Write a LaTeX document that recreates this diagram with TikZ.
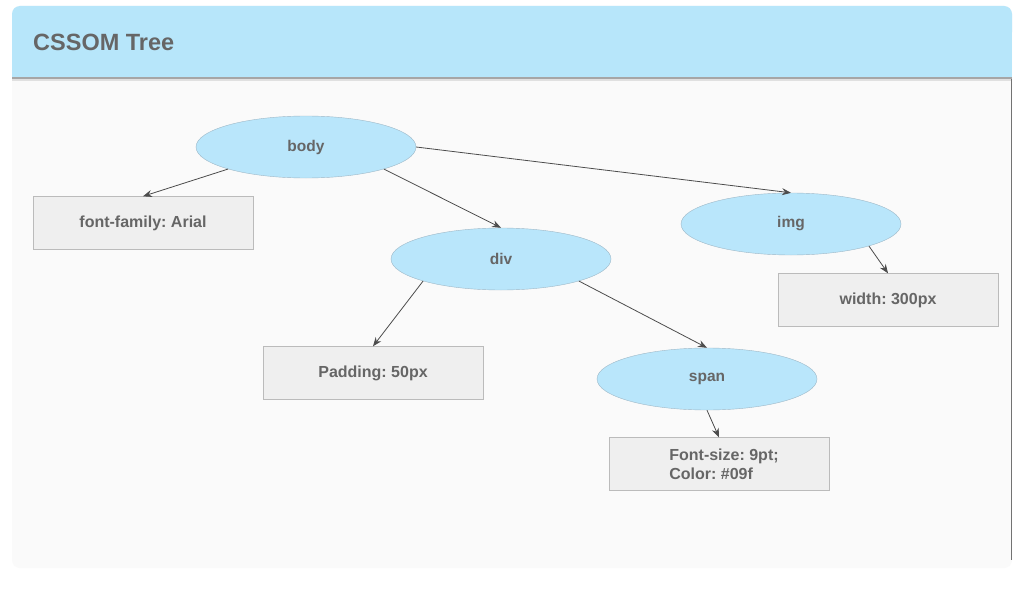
\documentclass[tikz,border=0pt]{standalone}
\usepackage{fontspec}
\setmainfont{Liberation Sans}
\usepackage{tikz}
\usetikzlibrary{arrows.meta, shapes.geometric}

\definecolor{headblue}{HTML}{B7E6FA}
\definecolor{nodeblue}{HTML}{B9E6FB}
\definecolor{nodeline}{HTML}{9DB7C6}
\definecolor{boxfill}{HTML}{EFEFEF}
\definecolor{boxline}{HTML}{BBBBBB}
\definecolor{txt}{HTML}{666666}
\definecolor{cardbg}{HTML}{FAFAFA}

\tikzset{
    elem/.style={ellipse, draw=nodeline, fill=nodeblue, minimum width=220pt,
        minimum height=62pt, inner sep=0pt, text=txt, font=\fontsize{15.5}{18}\selectfont\bfseries},
    rule/.style={rectangle, draw=boxline, fill=boxfill, minimum width=220pt,
        minimum height=53pt, inner sep=0pt, text=txt, font=\fontsize{16}{19}\selectfont\bfseries},
    link/.style={-{Stealth[length=9pt, width=7pt]}, draw=black!70, line width=0.8pt}
}

\begin{document}
\frenchspacing
\begin{tikzpicture}[x=1pt, y=-1pt]
    \useasboundingbox (0,0) rectangle (1025,594);
    \fill[white] (0,0) rectangle (1025,594);
    % card
    \fill[cardbg, rounded corners=8pt] (12,6) rectangle (1012,568);
    \fill[headblue, rounded corners=8pt] (12,6) rectangle (1012,40);
    \fill[headblue] (12,30) rectangle (1012,78);
    \draw[black!35, line width=1.2pt] (12,78) -- (1012,78);
    \draw[black!12, line width=1.5pt] (12,80) -- (1012,80);
    \draw[black!55, line width=1pt] (1011,79) -- (1011,560);
    \node[anchor=west, inner sep=0pt, text=txt, font=\fontsize{23.5}{28}\selectfont\bfseries] (title) at (33,42) {CSSOM Tree};

    % tree nodes
    \node[elem] (body) at (306,147) {body};
    \node[elem] (div) at (501,259) {div};
    \node[elem] (img) at (791,224) {img};
    \node[elem] (span) at (707,379) {span};

    \node[rule] (font) at (143,223) {font-family: Arial};
    \node[rule] (width) at (888,300) {width: 300px};
    \node[rule] (pad) at (373,373) {Padding: 50px};
    \node[rule, align=left] (size) at (719,464) {\hspace*{10pt}Font-size: 9pt;\\\hspace*{10pt}Color: \#09f};

    % links
    \draw[link] (body.south west) -- (font.north);
    \draw[link] (body.south east) -- (div.north);
    \draw[link] (body.east) -- (img.north);
    \draw[link] (img.south east) -- (width.north);
    \draw[link] (div.south west) -- (pad.north);
    \draw[link] (div.south east) -- (span.north);
    \draw[link] (span.south) -- (size.north);
\end{tikzpicture}
\end{document}
